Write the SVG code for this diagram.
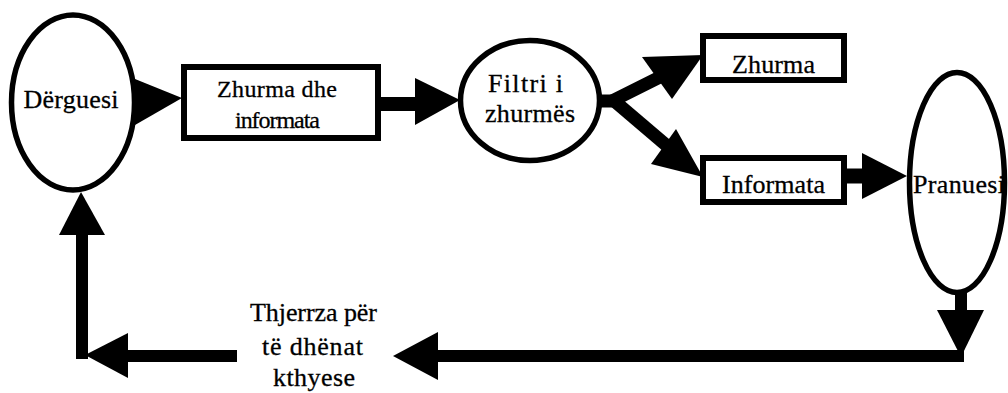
<svg xmlns="http://www.w3.org/2000/svg" width="1008" height="393" viewBox="0 0 1008 393">
  <style>
    .shape { fill: #fff; stroke: #000; stroke-width: 6; }
    .oval { fill: #fff; stroke: #000; stroke-width: 5.5; }
    .shaft { stroke: #000; stroke-linecap: butt; fill: none; }
    .head { fill: #000; stroke: none; }
    .label { font-family: 'Liberation Serif', 'DejaVu Serif', serif; font-size: 26px; fill: #000; stroke: #000; stroke-width: 0.3; text-anchor: middle; }
    .small { font-size: 24px; }
  </style>
  <rect width="1008" height="393" fill="#fff"/>

  <!-- connectors -->
  <g id="connectors">
    <!-- Dërguesi to mixed signal box -->
    <polygon class="head" points="135,79 135,125 182,98"/>
    <!-- mixed signal box to filter -->
    <line class="shaft" x1="381" y1="104" x2="417" y2="104" stroke-width="14"/>
    <polygon class="head" points="415,78 415,125 460,100"/>
    <!-- filter split -->
    <line class="shaft" x1="600" y1="101" x2="616" y2="101" stroke-width="13"/>
    <line class="shaft" x1="612" y1="101" x2="660" y2="77" stroke-width="13"/>
    <polygon class="head" points="642,57 672,99 703,55"/>
    <line class="shaft" x1="612" y1="99" x2="666" y2="145" stroke-width="13"/>
    <polygon class="head" points="676,129 651,164 703,177"/>
    <!-- information to receiver -->
    <line class="shaft" x1="846" y1="176" x2="864" y2="176" stroke-width="15"/>
    <polygon class="head" points="862,153 862,199 907,176"/>
    <!-- receiver down to return line -->
    <line class="shaft" x1="961" y1="292" x2="961" y2="312" stroke-width="12"/>
    <polygon class="head" points="937,310 984,310 961,357"/>
    <!-- return line -->
    <line class="shaft" x1="964" y1="356" x2="436" y2="356" stroke-width="12"/>
    <polygon class="head" points="438,332 438,380 393,356"/>
    <line class="shaft" x1="237" y1="356" x2="126" y2="356" stroke-width="12"/>
    <polygon class="head" points="128,333 128,378 85,355"/>
    <line class="shaft" x1="82" y1="359" x2="82" y2="233" stroke-width="12"/>
    <polygon class="head" points="59,235 105,235 81,192"/>
  </g>

  <!-- sender -->
  <g id="derguesi">
    <ellipse class="oval" cx="73" cy="102.5" rx="61.5" ry="87.5"/>
    <text class="label" font-family="Liberation Serif" x="71" y="108" textLength="95">Dërguesi</text>
  </g>

  <!-- noise and information -->
  <g id="zhurma-dhe-informata">
    <rect class="shape" x="184" y="67" width="194" height="71"/>
    <text class="label small" font-family="Liberation Serif" x="277" y="97" textLength="120">Zhurma dhe</text>
    <text class="label small" font-family="Liberation Serif" x="277.5" y="128" textLength="85">informata</text>
  </g>

  <!-- noise filter -->
  <g id="filtri">
    <ellipse class="oval" cx="530" cy="100.5" rx="69.5" ry="60"/>
    <text class="label" font-family="Liberation Serif" x="525.5" y="92" textLength="75">Filtri i</text>
    <text class="label" font-family="Liberation Serif" x="530" y="122" textLength="90">zhurmës</text>
  </g>

  <!-- noise output -->
  <g id="zhurma">
    <rect class="shape" x="703" y="36" width="141" height="44"/>
    <text class="label" font-family="Liberation Serif" x="773.5" y="73" textLength="83">Zhurma</text>
  </g>

  <!-- information output -->
  <g id="informata">
    <rect class="shape" x="703" y="158" width="141" height="44"/>
    <text class="label" font-family="Liberation Serif" x="773.5" y="193" textLength="103">Informata</text>
  </g>

  <!-- receiver -->
  <g id="pranuesi">
    <ellipse class="oval" cx="957" cy="182.5" rx="47.5" ry="110"/>
    <text class="label" font-family="Liberation Serif" x="959" y="193" textLength="92">Pranuesi</text>
  </g>

  <!-- feedback label -->
  <g id="thjerrza">
    <text class="label" font-family="Liberation Serif" x="313.5" y="321" textLength="127">Thjerrza për</text>
    <text class="label" font-family="Liberation Serif" x="312.5" y="355" textLength="101">të dhënat</text>
    <text class="label" font-family="Liberation Serif" x="314" y="386" textLength="82">kthyese</text>
  </g>
</svg>
